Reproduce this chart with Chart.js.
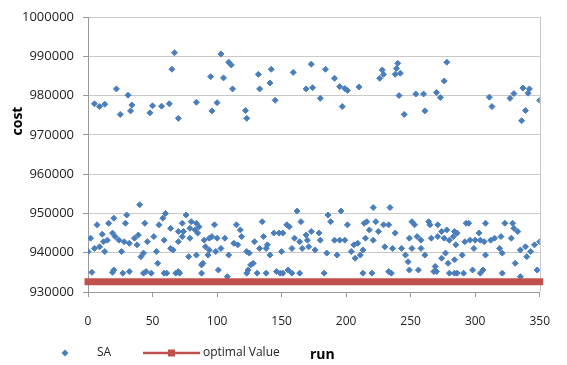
<!DOCTYPE html>
<html>
<head>
<meta charset="utf-8">
<script src="https://cdn.jsdelivr.net/npm/chart.js@4.4.1/dist/chart.umd.min.js"></script>
<style>
  html, body { margin: 0; padding: 0; background: #fff; }
  canvas { display: block; }
</style>
</head>
<body>
<canvas id="chart" width="567" height="365"></canvas>
<script>
// SA results. upper cluster (about 974k - 991k)
var upperRuns = [
  5, 9, 13, 22, 25, 31, 34, 33, 48, 50,
  57, 63, 65, 67, 70, 84, 95, 96, 100, 103,
  105, 109, 111, 112, 122, 123, 132, 133, 141, 142,
  145, 159, 169, 173, 174, 180, 184, 191, 195, 199,
  201, 197, 210, 226, 228, 229, 240, 239, 238, 242,
  241, 245, 254, 260, 261, 270, 273, 276, 278, 311,
  313, 327, 330, 337, 342, 341, 339, 336, 350
];
var upperCosts = [
  977900, 977200, 977800, 981700, 975200, 980100, 977600, 976100, 975600, 977400,
  977300, 977900, 986700, 990900, 974200, 978300, 984800, 976100, 978200, 990600,
  984500, 988500, 987800, 981700, 976200, 974200, 985400, 981700, 983200, 986700,
  978800, 985900, 981700, 988000, 982000, 979300, 986700, 984400, 982300, 981800,
  981300, 977200, 982200, 984400, 986500, 985400, 988200, 986900, 985400, 985700,
  980000, 975200, 980400, 980400, 976100, 980800, 979500, 983700, 988500, 979600,
  977200, 979300, 980500, 981900, 981700, 980600, 976200, 973600, 978800
];

// lower cluster (about 934k - 952k)
var lowerRuns = [
  40, 2, 0, 7, 5, 9, 11, 13, 12, 15,
  16, 20, 19, 21, 24, 26, 28, 30, 29, 32,
  36, 39, 38, 41, 43, 44, 46, 51, 53, 54,
  55, 58, 60, 59, 64, 64, 66, 70, 70, 3,
  19, 20, 27, 32, 43, 45, 49, 59, 61, 68,
  70,
  76, 73, 80, 79, 84, 86, 83, 74, 73, 79,
  85, 90, 94, 98, 96, 100, 91, 94, 93, 84,
  78, 89, 99, 103, 106, 109, 113, 115, 118, 119,
  116, 123, 125, 129, 135, 136, 133, 138, 141, 139,
  71, 88, 88, 101, 108, 123, 124, 126, 128, 131,
  138,
  162, 186, 196, 165, 188, 154, 156, 201, 144, 148,
  151, 173, 179, 160, 164, 169, 170, 180, 191, 195,
  199, 171, 166, 158, 150, 176, 185, 193, 204, 206,
  209, 207, 213, 211, 146, 149, 151, 155, 158, 164,
  183, 213,
  221, 234, 214, 216, 223, 229, 233, 218, 225, 238,
  215, 221, 230, 236, 243, 249, 251, 253, 255, 258,
  251, 258, 246, 248, 261, 264, 265, 271, 266, 271,
  274, 278, 276, 280, 283, 284, 277, 274, 269, 279,
  284, 220, 233, 235, 249, 256, 268, 270, 280, 284,
  286, 293, 295, 308, 323, 329, 330, 333, 303, 320,
  328, 292, 296, 300, 304, 307, 312, 315, 285, 299,
  308, 319, 321, 335, 339, 343, 346, 350, 290, 331,
  340, 286, 291, 298, 304, 306, 321, 335, 348
];
var lowerCosts = [
  952200, 943700, 940300, 947100, 941100, 941500, 944700, 940300, 942800, 943200,
  947500, 948800, 945000, 944100, 943200, 940300, 942800, 949600, 947500, 942400,
  943700, 944500, 942000, 939000, 939900, 947500, 942800, 944100, 940300, 937300,
  947100, 948800, 950000, 943200, 946200, 941100, 940700, 942800, 945400, 935000,
  935000, 935600, 934800, 935200, 934800, 935200, 934800, 934800, 934800, 934800,
  935200,
  949600, 947500, 947900, 946200, 947500, 946600, 945800, 945400, 944100, 943700,
  945000, 943200, 943700, 947100, 944100, 943700, 941500, 940700, 939400, 939400,
  939000, 937300, 940300, 941100, 943700, 939400, 942400, 947100, 945800, 944100,
  942000, 940300, 939900, 942800, 947900, 944100, 941100, 941100, 939400, 942000,
  934800, 934800, 936900, 935600, 933900, 934800, 935600, 936900, 937300, 934800,
  934800,
  950600, 949600, 950600, 947900, 947900, 947100, 946600, 947100, 945000, 945000,
  945000, 945400, 945000, 943700, 942800, 944500, 943200, 943200, 943200, 943200,
  943200, 941500, 941100, 941100, 940300, 940700, 939900, 939400, 940300, 942000,
  942400, 938600, 940700, 939400, 935200, 934800, 934800, 935600, 934800, 934800,
  934800, 934800,
  951500, 951500, 947500, 947900, 947900, 947100, 947100, 945800, 945400, 945000,
  943700, 943200, 941500, 941100, 941100, 943700, 947900, 947100, 944100, 943200,
  941100, 941100, 939400, 937700, 939400, 947900, 947100, 947100, 943700, 944100,
  945400, 945800, 943700, 943200, 944100, 945400, 939900, 938600, 936500, 937300,
  938200, 934800, 935200, 934800, 935600, 935600, 935200, 935200, 934800, 934800,
  945000, 947500, 947500, 947500, 947500, 947500, 946200, 945400, 945000, 944100,
  943700, 942800, 943200, 943200, 943200, 942800, 943200, 943700, 942000, 941100,
  939400, 941100, 939900, 940700, 941500, 940300, 942000, 942800, 939400, 937300,
  939000, 934800, 934800, 935600, 934800, 935600, 934800, 933900, 935600
];

var optimalValue = 932600;
var runTicks = [0, 50, 100, 150, 200, 250, 300, 350];
var costTicks = [930000, 940000, 950000, 960000, 970000, 980000, 990000, 1000000];

var blue = '#4a7ebb';
var red = '#c0504d';
var axisGrey = '#9a9a9a';
var gridGrey = '#c8c8c8';
var font = '"Open Sans", "DejaVu Sans", sans-serif';

function toPoints(runs, costs) {
  return runs.map(function (r, i) { return { x: r, y: costs[i] }; });
}

var saPoints = toPoints(upperRuns, upperCosts).concat(toPoints(lowerRuns, lowerCosts));
var optimalPoints = [
  { x: runTicks[0], y: optimalValue },
  { x: runTicks[runTicks.length - 1], y: optimalValue }
];

// plot border on the right, axis titles and the excel style legend
var excelBits = {
  id: 'excelBits',
  beforeDatasetsDraw: function (chart) {
    var ctx = chart.ctx, a = chart.chartArea;
    var x = Math.round(a.right) + 0.5;
    ctx.save();
    ctx.strokeStyle = gridGrey;
    ctx.lineWidth = 1;
    ctx.beginPath();
    ctx.moveTo(x, a.top);
    ctx.lineTo(x, a.bottom);
    ctx.stroke();
    ctx.restore();
  },
  afterDraw: function (chart) {
    var ctx = chart.ctx;
    var ly = 353;
    ctx.save();

    // SA marker
    ctx.fillStyle = blue;
    ctx.beginPath();
    ctx.moveTo(65, ly - 3.5);
    ctx.lineTo(68.5, ly);
    ctx.lineTo(65, ly + 3.5);
    ctx.lineTo(61.5, ly);
    ctx.closePath();
    ctx.fill();

    // optimal value line + square
    ctx.strokeStyle = red;
    ctx.lineWidth = 2.5;
    ctx.beginPath();
    ctx.moveTo(143, ly);
    ctx.lineTo(200, ly);
    ctx.stroke();
    ctx.fillStyle = red;
    ctx.fillRect(168, ly - 3.5, 7, 7);

    ctx.fillStyle = '#222';
    ctx.font = '12px ' + font;
    ctx.textAlign = 'left';
    ctx.textBaseline = 'middle';
    ctx.fillText('SA', 97, ly);
    ctx.fillText('optimal Value', 203, ly);

    ctx.fillStyle = '#000';
    ctx.font = 'bold 14px ' + font;
    ctx.fillText('run', 310, ly + 2);

    ctx.translate(18, 121);
    ctx.rotate(-Math.PI / 2);
    ctx.textAlign = 'center';
    ctx.fillText('cost', 0, 0);
    ctx.restore();
  }
};

new Chart(document.getElementById('chart'), {
  type: 'scatter',
  data: {
    datasets: [
      {
        label: 'optimal Value',
        type: 'line',
        data: optimalPoints,
        borderColor: red,
        backgroundColor: red,
        borderWidth: 7,
        borderCapStyle: 'square',
        pointRadius: 0,
        clip: false,
        order: 0
      },
      {
        label: 'SA',
        data: saPoints,
        pointStyle: 'rectRot',
        pointRadius: 3,
        pointBorderWidth: 1,
        backgroundColor: blue,
        borderColor: blue,
        order: 1
      }
    ]
  },
  options: {
    responsive: false,
    animation: false,
    devicePixelRatio: 1,
    layout: { padding: { top: 17, right: 12, left: 0, bottom: 0 } },
    plugins: {
      legend: { display: false },
      tooltip: { enabled: false }
    },
    scales: {
      x: {
        type: 'linear',
        min: runTicks[0],
        max: runTicks[runTicks.length - 1],
        afterBuildTicks: function (scale) {
          scale.ticks = runTicks.map(function (v) { return { value: v }; });
        },
        afterFit: function (scale) { scale.height = 73; },
        grid: {
          drawOnChartArea: false,
          drawTicks: true,
          tickLength: 5,
          tickColor: axisGrey
        },
        border: { display: true, color: axisGrey },
        ticks: {
          padding: 17,
          color: '#222',
          font: { family: font, size: 12 },
          maxRotation: 0
        }
      },
      y: {
        min: costTicks[0],
        max: costTicks[costTicks.length - 1],
        afterBuildTicks: function (scale) {
          scale.ticks = costTicks.map(function (v) { return { value: v }; });
        },
        afterFit: function (scale) { scale.width = 88; },
        grid: {
          color: gridGrey,
          drawTicks: true,
          tickLength: 5,
          tickColor: axisGrey
        },
        border: { display: true, color: axisGrey },
        ticks: {
          padding: 9,
          color: '#222',
          font: { family: font, size: 13 },
          callback: function (v) { return String(v); }
        }
      }
    }
  },
  plugins: [excelBits]
});
</script>
</body>
</html>
